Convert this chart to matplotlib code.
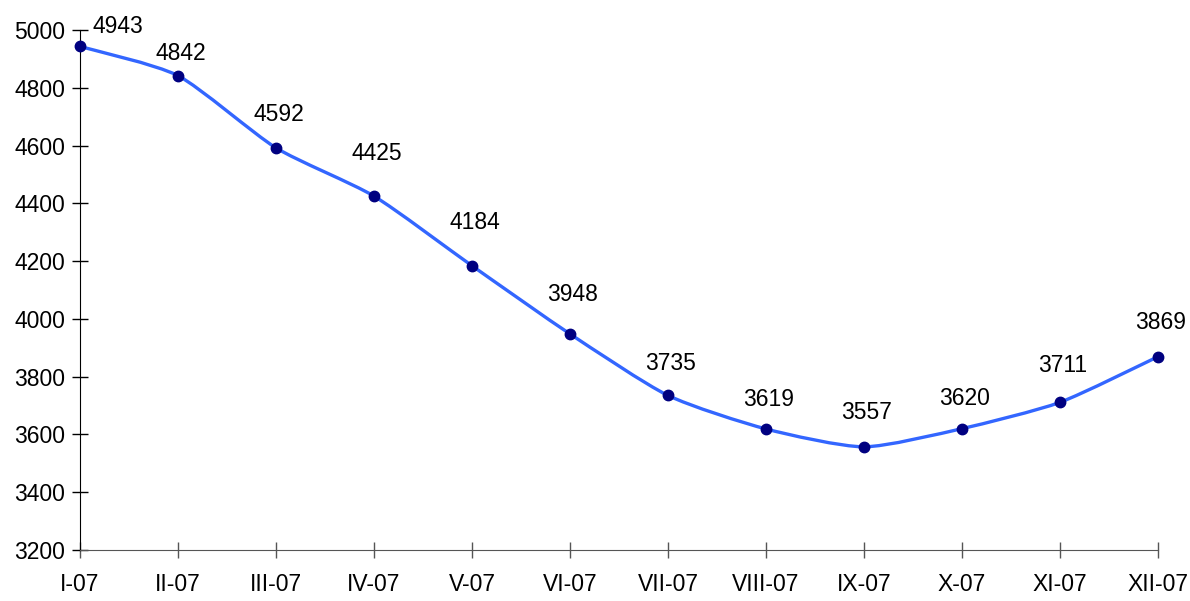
import numpy as np
import matplotlib.pyplot as plt
from matplotlib.path import Path
from matplotlib.patches import PathPatch

plt.rcParams['font.family'] = ['Liberation Sans', 'DejaVu Sans']

months = ["I-07", "II-07", "III-07", "IV-07", "V-07", "VI-07",
          "VII-07", "VIII-07", "IX-07", "X-07", "XI-07", "XII-07"]
values = [4943, 4842, 4592, 4425, 4184, 3948, 3735, 3619, 3557, 3620, 3711, 3869]

# label offsets above each point (pixels), as placed in the original
label_dy = [20, 22, 33, 43, 43, 39, 32, 29, 34, 30, 37, 34]

x = np.arange(len(values))
y = np.array(values, dtype=float)

fig = plt.figure(figsize=(11.9, 6.01), dpi=100)
ax = fig.add_axes([0.0672, 0.0849, 0.9058, 0.8652])

# smoothed line (bezier between points, gentle tension)
verts = [(x[0], y[0])]
codes = [Path.MOVETO]
n = len(x)
k = 9.0
for i in range(n - 1):
    p0 = np.array([x[max(i - 1, 0)], y[max(i - 1, 0)]])
    p1 = np.array([x[i], y[i]])
    p2 = np.array([x[i + 1], y[i + 1]])
    p3 = np.array([x[min(i + 2, n - 1)], y[min(i + 2, n - 1)]])
    c1 = p1 + (p2 - p0) / k
    c2 = p2 - (p3 - p1) / k
    verts += [tuple(c1), tuple(c2), tuple(p2)]
    codes += [Path.CURVE4] * 3
ax.add_patch(PathPatch(Path(verts, codes), facecolor='none',
                       edgecolor='#3366FF', lw=2.4, zorder=2, capstyle='round'))
ax.plot(x, y, 'o', color='#000080', markersize=7.5, zorder=3, clip_on=False)

px = 72.0 / 100
for i, v in enumerate(values):
    dx = 38 if i == 0 else 3
    ax.annotate(str(v), (x[i], y[i]), xytext=(dx * px, label_dy[i] * px),
                textcoords='offset points', ha='center', va='center',
                fontsize=16.5, annotation_clip=False)

ax.set_xlim(0, 11)
ax.set_ylim(3200, 5000)
ax.set_yticks(np.arange(3200, 5001, 200))
ax.set_xticks(x)
ax.set_xticklabels(months)
ax.tick_params(axis='both', labelsize=16.5, direction='inout', length=11.5, width=1)
ax.tick_params(axis='x', colors='#555555', labelcolor='black', pad=11)
ax.tick_params(axis='y', pad=5)
for s in ['top', 'right']:
    ax.spines[s].set_visible(False)
ax.spines['bottom'].set_color('#555555')
ax.spines['left'].set_color('black')

fig.savefig('out.png', dpi=100)
